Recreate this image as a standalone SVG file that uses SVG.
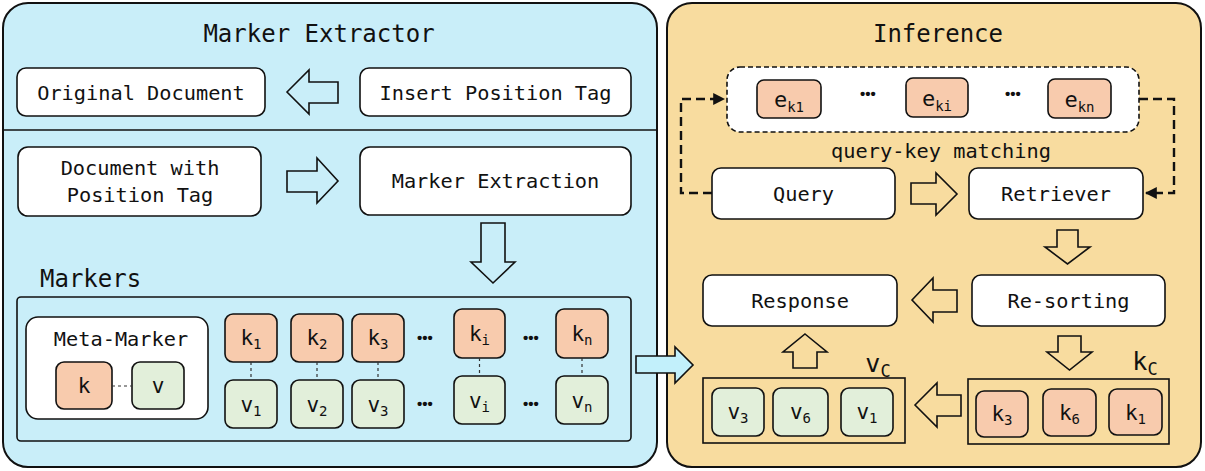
<svg xmlns="http://www.w3.org/2000/svg" width="1205" height="471" viewBox="0 0 1205 471">
<defs>
<style>
text{font-family:"DejaVu Sans Mono","Liberation Mono",monospace;fill:#111;}
.t{font-size:20.3px;text-anchor:middle;}
.h{font-size:24px;}
.lab{font-size:21px;text-anchor:middle;}
.sub{font-size:14px;}
.box{fill:#fff;stroke:#111;stroke-width:1.6;}
.key{fill:#f8cbad;stroke:#111;stroke-width:1.6;}
.val{fill:#e2efda;stroke:#111;stroke-width:1.6;}
.cont{fill:none;stroke:#111;stroke-width:1.6;}
.arr{fill:none;stroke:#111;stroke-width:1.6;stroke-linejoin:miter;}
.kv{stroke:#333;stroke-width:1.2;stroke-dasharray:3,3;fill:none;}
.dots{font-family:"Liberation Sans",sans-serif;font-size:15px;font-weight:bold;text-anchor:middle;}
.dash{fill:none;stroke:#111;stroke-width:2.4;stroke-dasharray:9,5;}
</style>
<marker id="ah" viewBox="0 0 10 10" refX="9" refY="5" markerWidth="5" markerHeight="5" orient="auto" markerUnits="strokeWidth">
<path d="M0,0 L10,5 L0,10 z" fill="#111"/>
</marker>
</defs>

<g id="panel-marker-extractor">
<rect x="3" y="3" width="654" height="464" rx="25" fill="#c9eef9" stroke="#111" stroke-width="2"/>
<line x1="3" y1="130" x2="657" y2="130" stroke="#111" stroke-width="1.6"/>
<text class="h" x="319" y="42" text-anchor="middle">Marker Extractor</text>
</g>

<g id="panel-inference">
<rect x="667" y="3" width="534" height="464" rx="25" fill="#f8dc9f" stroke="#111" stroke-width="2"/>
<text class="h" x="938" y="42" text-anchor="middle">Inference</text>
</g>

<g id="original-document">
<rect class="box" x="17" y="68" width="248" height="48" rx="9"/>
<text class="t" x="141" y="100">Original Document</text>
</g>
<g id="insert-position-tag">
<rect class="box" x="360" y="68" width="271" height="48" rx="9"/>
<text class="t" x="495.5" y="100">Insert Position Tag</text>
</g>
<g id="document-with-position-tag">
<rect class="box" x="18" y="147" width="243" height="69" rx="10"/>
<text class="t" x="140" y="175">Document with</text>
<text class="t" x="140" y="202">Position Tag</text>
</g>
<g id="marker-extraction">
<rect class="box" x="360" y="147" width="271" height="68" rx="10"/>
<text class="t" x="495.5" y="188">Marker Extraction</text>
</g>

<g id="markers">
<text class="h" x="40" y="287">Markers</text>
<rect class="cont" x="17" y="297" width="614" height="144" rx="4"/>
</g>

<g id="meta-marker">
<rect class="box" x="26" y="317" width="182" height="102" rx="12"/>
<text class="t" x="121" y="346">Meta-Marker</text>
<rect class="key" x="56" y="362" width="56" height="47" rx="8"/>
<rect class="val" x="132" y="362" width="52" height="47" rx="8"/>
<line class="kv" x1="112" y1="386" x2="132" y2="386"/>
<text class="lab" x="84" y="393">k</text>
<text class="lab" x="158" y="393">v</text>
</g>

<g id="marker-1">
<rect class="key" x="225" y="314" width="52" height="48" rx="8"/>
<rect class="val" x="225" y="380" width="52" height="48" rx="8"/>
<line class="kv" x1="251" y1="362" x2="251" y2="380"/>
<text class="lab" x="251" y="345">k<tspan class="sub" dy="4">1</tspan></text>
<text class="lab" x="251" y="412">v<tspan class="sub" dy="4">1</tspan></text>
</g>
<g id="marker-2">
<rect class="key" x="291" y="314" width="52" height="48" rx="8"/>
<rect class="val" x="291" y="380" width="52" height="48" rx="8"/>
<line class="kv" x1="317" y1="362" x2="317" y2="380"/>
<text class="lab" x="317" y="345">k<tspan class="sub" dy="4">2</tspan></text>
<text class="lab" x="317" y="412">v<tspan class="sub" dy="4">2</tspan></text>
</g>
<g id="marker-3">
<rect class="key" x="352" y="314" width="52" height="48" rx="8"/>
<rect class="val" x="352" y="380" width="52" height="48" rx="8"/>
<line class="kv" x1="378" y1="362" x2="378" y2="380"/>
<text class="lab" x="378" y="345">k<tspan class="sub" dy="4">3</tspan></text>
<text class="lab" x="378" y="412">v<tspan class="sub" dy="4">3</tspan></text>
</g>
<g id="marker-dots-1">
<text class="dots" x="425" y="343">•••</text>
<text class="dots" x="425" y="409">•••</text>
</g>
<g id="marker-i">
<rect class="key" x="454" y="309" width="51" height="49" rx="8"/>
<rect class="val" x="454" y="376" width="51" height="48" rx="8"/>
<line class="kv" x1="479.5" y1="358" x2="479.5" y2="376"/>
<text class="lab" x="479.5" y="341">k<tspan class="sub" dy="4">i</tspan></text>
<text class="lab" x="479.5" y="408">v<tspan class="sub" dy="4">i</tspan></text>
</g>
<g id="marker-dots-2">
<text class="dots" x="531" y="343">•••</text>
<text class="dots" x="531" y="409">•••</text>
</g>
<g id="marker-n">
<rect class="key" x="556" y="309" width="52" height="49" rx="8"/>
<rect class="val" x="556" y="376" width="52" height="48" rx="8"/>
<line class="kv" x1="582" y1="358" x2="582" y2="376"/>
<text class="lab" x="582" y="341">k<tspan class="sub" dy="4">n</tspan></text>
<text class="lab" x="582" y="408">v<tspan class="sub" dy="4">n</tspan></text>
</g>

<g id="key-embeddings">
<rect x="727" y="67" width="412" height="65" rx="13" fill="#fff" stroke="#111" stroke-width="1.6" stroke-dasharray="5,3"/>
<rect class="key" x="757" y="80" width="64" height="38" rx="7"/>
<text x="789" y="107" font-size="22" text-anchor="middle">e<tspan font-size="14" dy="5">k1</tspan></text>
<text class="dots" x="868" y="99">•••</text>
<rect class="key" x="906" y="78" width="62" height="39" rx="7"/>
<text x="937" y="106" font-size="22" text-anchor="middle">e<tspan font-size="14" dy="5">ki</tspan></text>
<text class="dots" x="1013" y="99">•••</text>
<rect class="key" x="1048" y="79" width="63" height="39" rx="7"/>
<text x="1079.5" y="107" font-size="22" text-anchor="middle">e<tspan font-size="14" dy="5">kn</tspan></text>
</g>

<g id="query">
<rect class="box" x="712" y="168" width="183" height="51" rx="9"/>
<text class="t" x="803.5" y="201">Query</text>
</g>
<g id="retriever">
<rect class="box" x="969" y="168" width="174" height="51" rx="9"/>
<text class="t" x="1056" y="201">Retriever</text>
</g>
<g id="response">
<rect class="box" x="703" y="275" width="194" height="51" rx="9"/>
<text class="t" x="800" y="308">Response</text>
</g>
<g id="re-sorting">
<rect class="box" x="972" y="275" width="193" height="51" rx="9"/>
<text class="t" x="1068.5" y="308">Re-sorting</text>
</g>

<g id="value-candidates">
<rect class="cont" x="703" y="378" width="202" height="65"/>
<text x="878" y="372" font-size="25" text-anchor="middle">v<tspan font-size="17" dy="5">C</tspan></text>
<rect class="val" x="712" y="388" width="52" height="48" rx="8"/>
<text class="lab" x="738" y="419">v<tspan class="sub" dy="4">3</tspan></text>
<rect class="val" x="773" y="388" width="55" height="48" rx="8"/>
<text class="lab" x="800.5" y="419">v<tspan class="sub" dy="4">6</tspan></text>
<rect class="val" x="841" y="388" width="52" height="48" rx="8"/>
<text class="lab" x="867" y="419">v<tspan class="sub" dy="4">1</tspan></text>
</g>
<g id="key-candidates">
<rect class="cont" x="968" y="379" width="201" height="65"/>
<text x="1145" y="370" font-size="25" text-anchor="middle">k<tspan font-size="17" dy="5">C</tspan></text>
<rect class="key" x="976" y="391" width="52" height="46" rx="8"/>
<text class="lab" x="1002" y="421">k<tspan class="sub" dy="4">3</tspan></text>
<rect class="key" x="1043" y="389" width="53" height="47" rx="8"/>
<text class="lab" x="1069.5" y="420">k<tspan class="sub" dy="4">6</tspan></text>
<rect class="key" x="1109" y="389" width="53" height="46" rx="8"/>
<text class="lab" x="1135.5" y="420">k<tspan class="sub" dy="4">1</tspan></text>
</g>

<g id="connectors">
<polygon class="arr" points="287,92 309,70 309,82 338,82 338,103 309,103 309,114"/>
<polygon class="arr" points="287,171 317,171 317,158 338,181 317,203 317,192 287,192"/>
<polygon class="arr" points="481,223 505,223 505,262 515,262 493,283 471,262 481,262"/>
<polygon points="636,356 675,356 675,347 693,365 675,383 675,373 636,373" fill="#c2f0fb" stroke="#111" stroke-width="1.6"/>
<polygon class="arr" points="911,183 936,183 936,173 957,194 936,215 936,204 911,204"/>
<polygon class="arr" points="1057,230 1078,230 1078,247 1090,247 1067.5,264 1045,247 1057,247"/>
<polygon class="arr" points="912,300 933,278 933,290 957,290 957,312 933,312 933,322"/>
<polygon class="arr" points="1058,336 1081,336 1081,352 1092,352 1069.5,370 1047,352 1058,352"/>
<polygon class="arr" points="915,405 937,383 937,395 961,395 961,416 937,416 937,427"/>
<polygon class="arr" points="805,334 827,352 817,352 817,368 793,368 793,352 783,352"/>
<path class="dash" d="M712,193 H681 V99 H724" marker-end="url(#ah)"/>
<path class="dash" d="M1139,99 H1174 V193 H1146" marker-end="url(#ah)"/>
</g>

<text class="t" x="941" y="158">query-key matching</text>
</svg>
